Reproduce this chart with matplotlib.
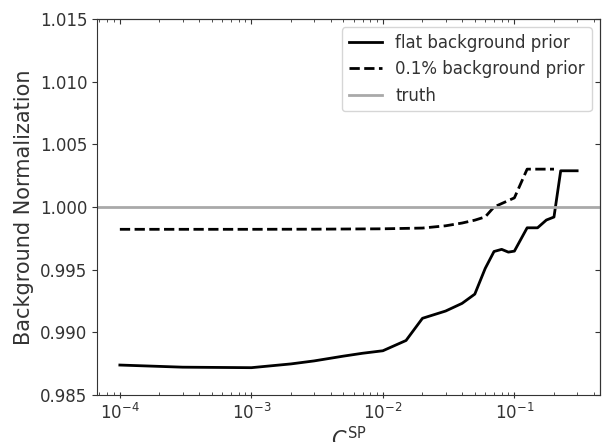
import numpy as np
import matplotlib
matplotlib.use("Agg")
import matplotlib.pyplot as plt

# ------------------------------------------------------------------ #
# Data
# ------------------------------------------------------------------ #
flat_x = [1e-4, 3e-4, 1e-3, 2e-3, 3e-3, 5e-3, 7e-3, 1e-2, 1.5e-2, 2e-2,
          3e-2, 4e-2, 5e-2, 6e-2, 7e-2, 8e-2, 9e-2, 1e-1, 1.25e-1, 1.5e-1,
          1.75e-1, 2e-1, 2.25e-1, 3e-1]
flat_y = [0.98739, 0.98722, 0.98718, 0.98748, 0.98772, 0.98810, 0.98833,
          0.98853, 0.98935, 0.99112, 0.99170, 0.99231, 0.99305, 0.99510,
          0.99645, 0.99662, 0.99640, 0.99648, 0.99834, 0.99834, 0.99896,
          0.99920, 1.00289, 1.00289]

prior_x = [1e-4, 3e-4, 1e-3, 3e-3, 1e-2, 2e-2, 3e-2, 4e-2, 5e-2, 6e-2,
           7e-2, 1e-1, 1.25e-1, 1.5e-1, 2e-1]
prior_y = [0.99822, 0.99822, 0.99822, 0.99823, 0.99826, 0.99832, 0.99850,
           0.99872, 0.99895, 0.99921, 1.00000, 1.00073, 1.00302, 1.00302,
           1.00302]

truth = 1.0

TEXT = "#333333"
plt.rcParams["text.color"] = TEXT
plt.rcParams["axes.labelcolor"] = TEXT
plt.rcParams["xtick.color"] = TEXT
plt.rcParams["ytick.color"] = TEXT
plt.rcParams["axes.edgecolor"] = TEXT

fig = plt.figure(figsize=(6.04, 4.42), dpi=100)
ax = fig.add_axes([97/604, 1 - 395/442, (600-97)/604, (395-19)/442])

ax.plot(flat_x, flat_y, color="black", lw=2, ls="-", label="flat background prior")
ax.plot(prior_x, prior_y, color="black", lw=2, ls="--", label="0.1% background prior")
ax.axhline(truth, color="darkgray", lw=2, label="truth")

ax.set_xscale("log")
ax.set_ylim(0.985, 1.015)
ax.set_yticks(np.arange(0.985, 1.0151, 0.005))

ax.set_xlabel(r"$C^{\rm SP}$", fontsize=15, labelpad=2)
ax.set_ylabel("Background Normalization", fontsize=15)

ax.tick_params(axis="both", which="major", labelsize=12)
ax.tick_params(axis="x", which="major", direction="inout", length=5)
ax.tick_params(axis="x", which="minor", direction="in")

# inward ticks on the top and right edges
top = ax.secondary_xaxis("top")
top.tick_params(which="both", direction="in", labeltop=False)
right = ax.secondary_yaxis("right")
right.set_yticks(np.arange(0.985, 1.0151, 0.005))
right.tick_params(direction="in", labelright=False)

ax.legend(loc="upper right", fontsize=12)

fig.savefig("out.png", dpi=100)
